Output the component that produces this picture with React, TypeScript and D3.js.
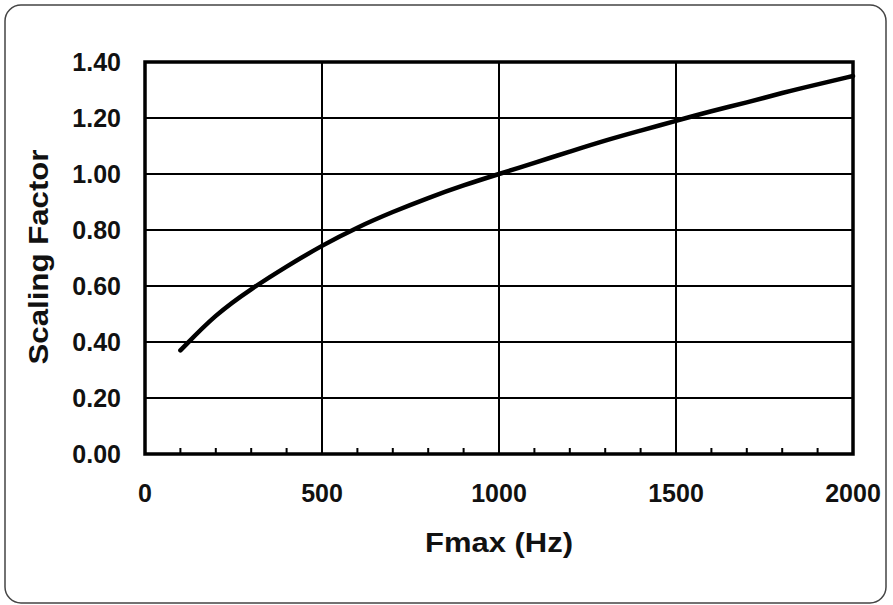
import React from 'react';
import * as d3 from 'd3';

// values
const fmax = [100, 200, 300, 400, 500, 600, 700, 800, 900, 1000, 1100, 1200, 1300, 1400, 1500, 1600, 1700, 1800, 1900, 2000];
const scaling = [0.37, 0.5, 0.59, 0.67, 0.745, 0.81, 0.865, 0.915, 0.96, 1.0, 1.04, 1.08, 1.12, 1.155, 1.19, 1.225, 1.255, 1.29, 1.32, 1.35];

const xTicks = [0, 500, 1000, 1500, 2000];
const xMinor = [100, 200, 300, 400, 600, 700, 800, 900, 1100, 1200, 1300, 1400, 1600, 1700, 1800, 1900];
const yTicks = [0, 0.2, 0.4, 0.6, 0.8, 1.0, 1.2, 1.4];

const W = 893;
const H = 605;
const margin = { left: 145, right: 40, top: 62, bottom: 152 };
const font = '"Liberation Sans", Arial, Helvetica, sans-serif';

const App = () => {
  const x = d3.scaleLinear().domain([0, 2000]).range([margin.left, W - margin.right]);
  const y = d3.scaleLinear().domain([0, 1.4]).range([H - margin.bottom + 1, margin.top]);

  const line = d3.line<number>()
    .x((d, i) => x(fmax[i]))
    .y(d => y(d))
    .curve(d3.curveBasis);

  const x0 = x(0), x1 = x(2000), y0 = y(0), y1 = y(1.4);

  return (
    <svg width={W} height={H} style={{ position: 'absolute', left: 0, top: 0, background: '#fff' }}>
      <rect x={5} y={5} width={881} height={598} rx={16} fill="none" stroke="#444" strokeWidth={1.5} />

      {/* horizontal grid */}
      {yTicks.map(t => (
        <line key={'gy' + t} x1={x0} x2={x1} y1={y(t)} y2={y(t)} stroke="#000" strokeWidth={2} />
      ))}
      {/* vertical grid */}
      {xTicks.map(t => (
        <line key={'gx' + t} x1={x(t)} x2={x(t)} y1={y0} y2={y1} stroke="#000" strokeWidth={2} />
      ))}
      {/* minor ticks */}
      {xMinor.map(t => (
        <line key={'m' + t} x1={x(t)} x2={x(t)} y1={y0} y2={y0 - 6} stroke="#000" strokeWidth={2} />
      ))}

      <rect x={x0} y={y1} width={x1 - x0} height={y0 - y1} fill="none" stroke="#000" strokeWidth={3.5} />

      <path d={line(scaling) || ''} fill="none" stroke="#000" strokeWidth={4.5} strokeLinecap="round" />

      {/* y tick labels */}
      {yTicks.map(t => (
        <text key={'ly' + t} x={121} y={y(t)} dy="0.35em" textAnchor="end"
          fontFamily={font} fontWeight="bold" fontSize={25} fill="#111">
          {d3.format('.2f')(t)}
        </text>
      ))}
      {/* x tick labels */}
      {xTicks.map(t => (
        <text key={'lx' + t} x={x(t)} y={502} textAnchor="middle"
          fontFamily={font} fontWeight="bold" fontSize={25} fill="#111">
          {t}
        </text>
      ))}

      <text x={499} y={552} textAnchor="middle" fontFamily={font} fontWeight="bold" fontSize={28}
        textLength={148} lengthAdjust="spacingAndGlyphs" fill="#111">
        Fmax (Hz)
      </text>
      <text transform="translate(48,257) rotate(-90)" textAnchor="middle" fontFamily={font} fontWeight="bold"
        fontSize={28} textLength={215} lengthAdjust="spacingAndGlyphs" fill="#111">
        Scaling Factor
      </text>
    </svg>
  );
};

export default App;
